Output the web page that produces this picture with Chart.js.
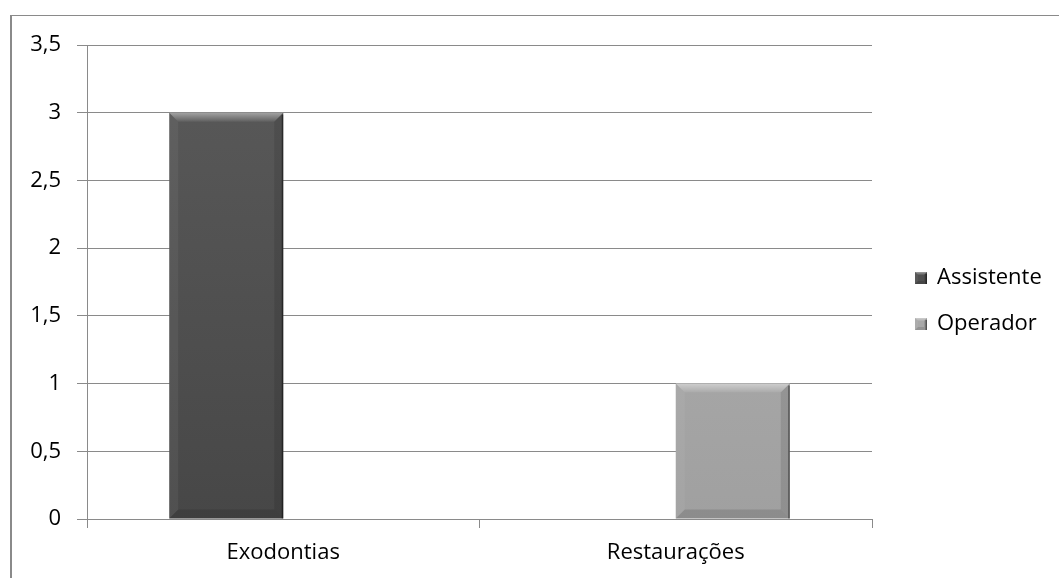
<!DOCTYPE html>
<html lang="pt-BR">
<head>
<meta charset="utf-8">
<title>Exodontias e Restaurações</title>
<script src="https://cdn.jsdelivr.net/npm/chart.js@4.4.0/dist/chart.umd.min.js"></script>
<style>
    html, body { margin: 0; padding: 0; background: #fff; overflow: hidden; }
    #moldura {
        position: absolute; left: 10px; top: 15px; width: 1100px; height: 600px;
        border-left: 2px solid #8a8a8a; border-top: 1px solid #8a8a8a;
    }
    #grafico { position: absolute; left: 0; top: 0; }
</style>
</head>
<body>
<div id="moldura"></div>
<canvas id="grafico" width="1059" height="578"></canvas>
<script>
// =====================================
// DADOS
// =====================================
const categorias = ["Exodontias", "Restaurações"];
const assistente = [3, 0];
const operador = [0, 1];
const rotulosY = ["0", "0,5", "1", "1,5", "2", "2,5", "3", "3,5"];

// cor base (legenda) e degradê vertical de cada série
const cores = {
    Assistente: { base: "#505050", topo: "#5a5a5a", fundo: "#474747" },
    Operador: { base: "#a8a8a8", topo: "#b2b2b2", fundo: "#a0a0a0" }
};
const corGrade = "#8a8a8a";

Chart.defaults.font.family = "'Open Sans', sans-serif";
Chart.defaults.font.size = 22;
Chart.defaults.color = "#000";

function degrade(ctx) {
    const chart = ctx.chart;
    const area = chart.chartArea;
    const c = cores[ctx.dataset.label];
    if (!area) return c.base;
    const g = chart.ctx.createLinearGradient(0, area.top, 0, area.bottom);
    g.addColorStop(0, c.topo);
    g.addColorStop(1, c.fundo);
    return g;
}

// chanfro estilo Excel por cima das barras
const chanfro = {
    id: "chanfro",
    afterDatasetsDraw(chart) {
        const ctx = chart.ctx;
        chart.data.datasets.forEach((ds, i) => {
            chart.getDatasetMeta(i).data.forEach(bar => {
                const p = bar.getProps(["x", "y", "base", "width"], true);
                const l = p.x - p.width / 2, r = p.x + p.width / 2;
                const t = Math.min(p.y, p.base), b = Math.max(p.y, p.base);
                if (b - t < 1) return;
                desenharChanfro(ctx, l, t, r, b, 9);
            });
        });
    }
};

function desenharChanfro(ctx, l, t, r, b, d) {
    ctx.save();
    // topo claro
    let g = ctx.createLinearGradient(0, t, 0, t + d);
    g.addColorStop(0, "rgba(255,255,255,0.45)");
    g.addColorStop(1, "rgba(255,255,255,0.05)");
    ctx.fillStyle = g;
    ctx.beginPath();
    ctx.moveTo(l, t); ctx.lineTo(r, t); ctx.lineTo(r - d, t + d); ctx.lineTo(l + d, t + d);
    ctx.closePath(); ctx.fill();
    // lateral esquerda
    ctx.fillStyle = "rgba(255,255,255,0.05)";
    ctx.beginPath();
    ctx.moveTo(l, t); ctx.lineTo(l + d, t + d); ctx.lineTo(l + d, b - d); ctx.lineTo(l, b);
    ctx.closePath(); ctx.fill();
    // lateral direita
    ctx.fillStyle = "rgba(0,0,0,0.10)";
    ctx.beginPath();
    ctx.moveTo(r, t); ctx.lineTo(r, b); ctx.lineTo(r - d, b - d); ctx.lineTo(r - d, t + d);
    ctx.closePath(); ctx.fill();
    // base escura
    ctx.fillStyle = "rgba(0,0,0,0.12)";
    ctx.beginPath();
    ctx.moveTo(l, b); ctx.lineTo(r, b); ctx.lineTo(r - d, b - d); ctx.lineTo(l + d, b - d);
    ctx.closePath(); ctx.fill();
    // filete na borda direita
    ctx.fillStyle = "rgba(0,0,0,0.45)";
    ctx.fillRect(r - 1.5, t + 2, 1.5, b - t - 2);
    ctx.restore();
}

// legenda à direita da área do gráfico
const legendaLateral = {
    id: "legendaLateral",
    afterDraw(chart) {
        const ctx = chart.ctx;
        const area = chart.chartArea;
        const x = area.right + 43;
        const centro = (area.top + area.bottom) / 2 + 19;
        const passo = 46;
        const n = chart.data.datasets.length;
        ctx.save();
        ctx.font = "22px 'Open Sans', sans-serif";
        ctx.textBaseline = "middle";
        ctx.textAlign = "left";
        chart.data.datasets.forEach((ds, i) => {
            const y = centro + (i - (n - 1) / 2) * passo;
            ctx.fillStyle = cores[ds.label].base;
            ctx.fillRect(x, y - 6, 12, 12);
            desenharChanfro(ctx, x, y - 6, x + 12, y + 6, 3);
            ctx.fillStyle = "#000";
            ctx.fillText(ds.label, x + 22, y);
        });
        ctx.restore();
    }
};

new Chart(document.getElementById("grafico"), {
    type: "bar",
    data: {
        labels: categorias,
        datasets: [
            { label: "Assistente", data: assistente, backgroundColor: degrade },
            { label: "Operador", data: operador, backgroundColor: degrade }
        ]
    },
    options: {
        responsive: false,
        animation: false,
        categoryPercentage: 0.581,
        barPercentage: 1,
        layout: { padding: { top: 45, right: 187, left: 0, bottom: 0 } },
        plugins: {
            legend: { display: false },
            tooltip: { enabled: false }
        },
        scales: {
            x: {
                afterFit(scale) { scale.height = 59; },
                grid: { offset: true, drawOnChartArea: false, color: corGrade, tickLength: 9 },
                border: { color: corGrade },
                ticks: { padding: 12 }
            },
            y: {
                min: 0,
                max: 3.5,
                afterFit(scale) { scale.width = 87; },
                grid: { color: corGrade, tickLength: 10 },
                border: { color: corGrade },
                ticks: {
                    stepSize: 0.5,
                    padding: 16,
                    callback: (v, i) => rotulosY[i]
                }
            }
        }
    },
    plugins: [chanfro, legendaLateral]
});
</script>
</body>
</html>
